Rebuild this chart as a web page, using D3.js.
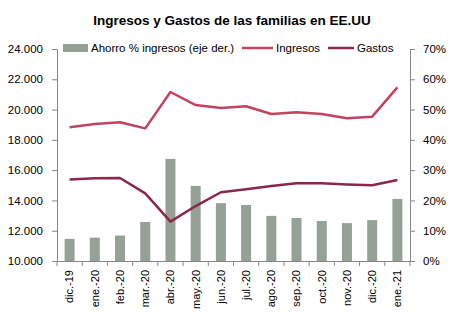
<!DOCTYPE html>
<html>
<head>
<meta charset="utf-8">
<script src="https://cdn.jsdelivr.net/npm/d3@7"></script>
<style>
  body { margin: 0; background: #fff; }
  text { font-family: "Liberation Sans", Arial, sans-serif; fill: #000; }
</style>
</head>
<body>
<svg id="chart"></svg>
<script>
// Data
const months = ["dic.-19", "ene.-20", "feb.-20", "mar.-20", "abr.-20", "may.-20", "jun.-20",
                "jul.-20", "ago.-20", "sep.-20", "oct.-20", "nov.-20", "dic.-20", "ene.-21"];
const ingresos = [18830, 19050, 19160, 18760, 21160, 20300, 20100,
                  20220, 19710, 19820, 19710, 19430, 19530, 21470];
const gastos = [15390, 15460, 15480, 14470, 12600, 13630, 14540,
                14740, 14950, 15130, 15130, 15060, 15000, 15350];
const ahorro = [7.3, 7.7, 8.4, 12.9, 33.7, 24.8, 19.1,
                18.5, 14.9, 14.2, 13.2, 12.5, 13.5, 20.5];
const leftTicks = [10000, 12000, 14000, 16000, 18000, 20000, 22000, 24000];
const rightTicks = [0, 10, 20, 30, 40, 50, 60, 70];

const W = 465, H = 328;
const margin = { top: 49, right: 55, bottom: 67, left: 57 };
const width = W - margin.left - margin.right;
const height = H - margin.top - margin.bottom;

const svg = d3.select("#chart").attr("width", W).attr("height", H);
const g = svg.append("g").attr("transform", `translate(${margin.left},${margin.top})`);

const axisColor = "#868686";

// Scales
const x = d3.scaleBand().domain(months).range([0, width]);
const yL = d3.scaleLinear().domain([10000, 24000]).range([height, 0]);
const yR = d3.scaleLinear().domain([0, 70]).range([height, 0]);

const fmt = d3.formatLocale({ decimal: ",", thousands: ".", grouping: [3], currency: ["", ""] }).format(",.0f");

// Bars (right axis)
g.selectAll(".bar")
    .data(ahorro)
  .enter().append("rect")
    .attr("x", (d, i) => x(months[i]) + x.bandwidth() / 2 - 5)
    .attr("y", d => yR(d))
    .attr("width", 10)
    .attr("height", d => height - yR(d))
    .attr("fill", "#95a196");

// Lines (left axis)
const line = d3.line()
    .x((d, i) => x(months[i]) + x.bandwidth() / 2)
    .y(d => yL(d));

g.append("path").datum(ingresos)
    .attr("d", line).attr("fill", "none")
    .attr("stroke", "#c4415f").attr("stroke-width", 2.5).attr("stroke-linejoin", "round");
g.append("path").datum(gastos)
    .attr("d", line).attr("fill", "none")
    .attr("stroke", "#8b2748").attr("stroke-width", 2.5).attr("stroke-linejoin", "round");

// Left axis
const leftAxis = g.append("g")
    .call(d3.axisLeft(yL).tickValues(leftTicks).tickFormat(fmt).tickSizeOuter(0).tickSizeInner(5).tickPadding(9));
// Right axis
const rightAxis = g.append("g")
    .attr("transform", `translate(${width},0)`)
    .call(d3.axisRight(yR).tickValues(rightTicks).tickFormat(d => d + "%").tickSizeOuter(0).tickSizeInner(5).tickPadding(8));
// Bottom axis with ticks at band boundaries
const bottomAxis = g.append("g")
    .attr("transform", `translate(0,${height})`)
    .call(d3.axisBottom(x).tickSize(0).tickPadding(0));
bottomAxis.selectAll(".tick line").remove();
bottomAxis.selectAll(".bnd")
    .data(months.concat(["end"]))
  .enter().append("line")
    .attr("x1", (d, i) => i * x.step()).attr("x2", (d, i) => i * x.step())
    .attr("y1", 0).attr("y2", 5)
    .attr("stroke", axisColor);
bottomAxis.selectAll(".tick text")
    .attr("transform", "rotate(-90)")
    .attr("text-anchor", "end")
    .attr("x", -9)
    .attr("y", 0)
    .attr("dy", "0.35em");

[leftAxis, rightAxis, bottomAxis].forEach(a => {
    a.select(".domain").attr("stroke", axisColor);
    a.selectAll(".tick line").attr("stroke", axisColor);
    a.selectAll("text").attr("font-size", 11.5).attr("fill", "#000")
        .style("font-family", "'Liberation Sans', Arial, sans-serif");
});
bottomAxis.selectAll("text").attr("font-size", 11);

// Title
svg.append("text")
    .attr("x", 232).attr("y", 25)
    .attr("text-anchor", "middle")
    .attr("font-size", 13.5).attr("font-weight", "bold")
    .text("Ingresos y Gastos de las familias en EE.UU");

// Legend
const lg = svg.append("g");
lg.append("rect").attr("x", 63).attr("y", 44).attr("width", 25).attr("height", 8).attr("fill", "#95a196");
lg.append("text").attr("x", 91).attr("y", 52).attr("font-size", 11.5).text("Ahorro % ingresos (eje der.)");
lg.append("line").attr("x1", 242).attr("x2", 273).attr("y1", 48).attr("y2", 48)
    .attr("stroke", "#c4415f").attr("stroke-width", 2.5);
lg.append("text").attr("x", 276).attr("y", 52).attr("font-size", 11.5).text("Ingresos");
lg.append("line").attr("x1", 328).attr("x2", 354).attr("y1", 48).attr("y2", 48)
    .attr("stroke", "#8b2748").attr("stroke-width", 2.5);
lg.append("text").attr("x", 357).attr("y", 52).attr("font-size", 11.5).text("Gastos");
</script>
</body>
</html>
